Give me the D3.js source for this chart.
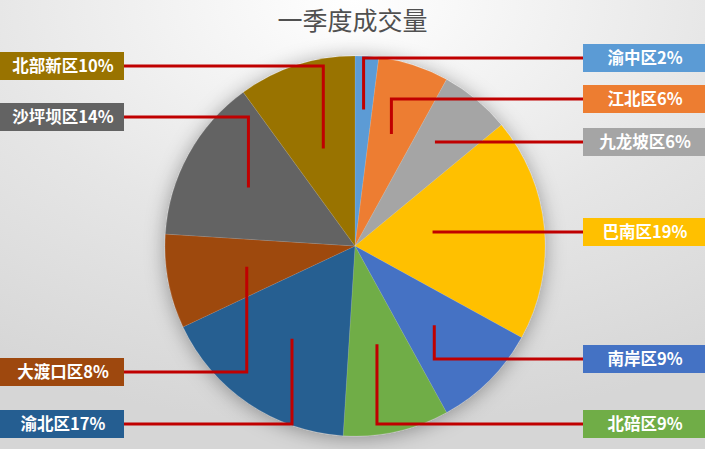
<!DOCTYPE html>
<html>
<head>
<meta charset="utf-8">
<script src="https://cdn.jsdelivr.net/npm/d3@7"></script>
<style>
body{margin:0;padding:0;overflow:hidden;}
svg{display:block;}
</style>
</head>
<body>
<svg id="drawing_region"></svg>
<script>
// data, clockwise from 12 o'clock
const districts = ['渝中区','江北区','九龙坡区','巴南区','南岸区','北碚区','渝北区','大渡口区','沙坪坝区','北部新区']
const shares = [2,6,6,19,9,9,17,8,14,10]
const colors = ['#5B9BD5','#ED7D31','#A5A5A5','#FFC000','#4472C4','#70AD47','#255E91','#9E480E','#636363','#997300']

// label layout (side of the box, box top y, how deep the leader goes into the slice)
const label_side = ['right','right','right','right','right','right','left','left','left','left']
const label_top = [44,85,128,218,345,410,410,358,103,52]
const leader_depth = [0.72,0.62,0.66,0.41,0.59,0.53,0.59,0.58,0.64,0.54]

class PieChart{
    constructor(config,data){
        this.config = {
            parent: config.parent,
            width: config.width || 705,
            height: config.height || 449,
            cx: config.cx,
            cy: config.cy,
            radius: config.radius,
            box: config.box
        }
        this.data = data
        this.init()
    }

    init(){
        let self = this
        self.svg = d3.select(self.config.parent)
            .attr('width',self.config.width)
            .attr('height',self.config.height)

        let defs = self.svg.append('defs')
        let grad = defs.append('radialGradient')
            .attr('id','bg')
            .attr('cx','50%').attr('cy','0%')
            .attr('r','95%')
        grad.append('stop').attr('offset','0%').attr('stop-color','#ffffff')
        grad.append('stop').attr('offset','55%').attr('stop-color','#e6e6e6')
        grad.append('stop').attr('offset','100%').attr('stop-color','#d6d6d6')

        let filt = defs.append('filter').attr('id','shadow')
            .attr('x','-20%').attr('y','-20%').attr('width','140%').attr('height','140%')
        filt.append('feDropShadow')
            .attr('dx',0).attr('dy',2)
            .attr('stdDeviation',10)
            .attr('flood-color','#000')
            .attr('flood-opacity',0.35)

        self.svg.append('rect')
            .attr('width',self.config.width)
            .attr('height',self.config.height)
            .attr('fill','url(#bg)')

        self.title = self.svg.append('text')
        self.chart = self.svg.append('g')
            .attr('transform',`translate(${self.config.cx},${self.config.cy})`)
        self.leaders = self.svg.append('g')
        self.labels = self.svg.append('g')

        self.pie = d3.pie().value(d => d.value).sort(null)
        self.arc = d3.arc().innerRadius(0).outerRadius(self.config.radius)
        self.color = d3.scaleOrdinal().domain(districts).range(colors)
    }

    update(){
        let self = this
        self.arcs = self.pie(self.data)
        self.render()
    }

    render(){
        let self = this
        const r = self.config.radius
        const box = self.config.box

        self.title.text('一季度成交量')
            .attr('x',self.config.width/2)
            .attr('y',30)
            .attr('text-anchor','middle')
            .attr('font-family','"Noto Sans CJK SC", sans-serif')
            .attr('font-size',25)
            .attr('fill','#505050')

        self.chart.append('g')
            .attr('filter','url(#shadow)')
            .selectAll('path')
            .data(self.arcs).enter()
            .append('path')
            .attr('d', self.arc)
            .attr('fill', d => self.color(d.data.name))
            .attr('stroke','rgba(255,255,255,0.18)')
            .attr('stroke-width',0.6)

        // leader lines: box edge -> across -> down/up to a point in the slice
        const points = self.arcs.map(d => {
            let k = r*d.data.depth
            let c = d3.arc().innerRadius(k).outerRadius(k).centroid(d)
            let ex = self.config.cx + c[0]
            let ey = self.config.cy + c[1]
            let by = d.data.top + box.h/2
            let bx = d.data.side === 'left' ? box.left + box.w : box.right
            if (Math.abs(ey - by) < 8) return [[bx,by],[ex,by]]
            return [[bx,by],[ex,by],[ex,ey]]
        })
        self.leaders.selectAll('path')
            .data(points).enter()
            .append('path')
            .attr('d', d3.line())
            .attr('fill','none')
            .attr('stroke','#C00000')
            .attr('stroke-width',3)

        let g = self.labels.selectAll('g')
            .data(self.arcs).enter()
            .append('g')
            .attr('transform', d => `translate(${d.data.side === 'left' ? box.left : box.right},${d.data.top})`)
        g.append('rect')
            .attr('width', d => d.data.side === 'left' ? box.w : self.config.width - box.right)
            .attr('height', box.h)
            .attr('fill', d => self.color(d.data.name))
        g.append('text')
            .attr('x', d => (d.data.side === 'left' ? box.w : self.config.width - box.right)/2 + 1)
            .attr('y', box.h/2 + 6)
            .attr('text-anchor','middle')
            .attr('font-family','"Noto Sans CJK SC", sans-serif')
            .attr('font-weight','bold')
            .attr('font-size',16.5)
            .attr('fill','#ffffff')
            .text(d => d.data.name + d.data.value + '%')
    }
}

const data = districts.map((name,i) => ({
    name: name,
    value: shares[i],
    side: label_side[i],
    top: label_top[i],
    depth: leader_depth[i]
}))

var config = {
    parent: '#drawing_region',
    width: 705,
    height: 449,
    cx: 355,
    cy: 246,
    radius: 190,
    box: {left: 0, w: 124, right: 583, h: 28}
}

const pie_chart = new PieChart(config,data)
pie_chart.update()
</script>
</body>
</html>
